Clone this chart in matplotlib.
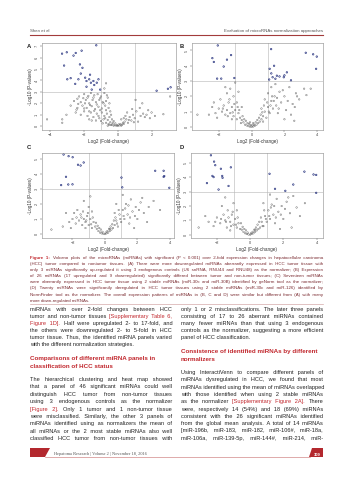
import matplotlib
matplotlib.use('Agg')
import matplotlib.pyplot as plt
from matplotlib.patches import Polygon

plt.rcParams['font.family'] = ['Liberation Sans', 'DejaVu Sans']

# ---- data ----
# panel A: 3 endogenous controls
a_sig_x = [-1.28, -3.31, -3.03, -2.63, -2.5, -2.15, -3.19, -2.25, -2.1, -3.0, -2.8, -2.53, -2.34, -2.2,
           -1.94, -1.86, -1.7, -1.6, -1.45, -1.25, -1.15, -1.65, -1.4, -1.86, -1.55, -1.05, 2.97, 3.13, 2.3]
a_sig_y = [7.07, 6.34, 6.46, 6.17, 6.4, 6.6, 5.3, 5.4, 5.1, 4.1, 4.2, 3.7, 4.1, 4.6,
           4.24, 3.95, 4.1, 3.8, 3.95, 3.8, 4.1, 4.5, 3.6, 3.45, 3.2, 3.2, 3.27, 3.4, 3.1]
a_ns_x = [-2.3, -2.0, -1.8, -1.6, -1.4, -1.2, -1.0, -0.8, -0.6, -2.6, -2.2, -1.9, -1.7, -1.5, -1.3, -1.1,
          -0.9, -0.7, -2.8, -2.4, -2.1, -1.85, -1.55, -1.35, -1.15, -0.95, -0.75, -0.55, -0.7, -0.8,
          -3.05, -3.3, -3.3, -4.2, -2.5, -2.2, -2.0, -1.8, -1.6, -1.45, -1.25, -1.1, -0.95, -0.8, -0.65,
          -0.5, -0.4, -1.7, -1.3, -1.0, -0.85, -0.6,
          -0.7, -0.55, -0.45, -0.35, -0.3, -0.2, -0.15, -0.1, 0.0, 0.05, -0.05, 0.1, 0.15, 0.2, -0.25,
          -0.4, -0.9, 0.3, 0.25,
          0.4, 0.5, 0.6, 0.7, 0.8, 0.9, 1.0, 1.1, 1.2, 1.3, 1.5, 1.6, 1.8, 1.9, 2.0, 2.2, 2.7, 0.55,
          0.35, 0.85, 1.45, 1.05, 3.1, 0.2, 0.45,
          -2.4, -2.05, -1.75, -1.45, -1.05, -0.65, -2.35, -1.95, -1.65, -1.25, -0.85, -0.5, -2.45, -2.0,
          -1.7, -1.4, -1.05, -0.7, -0.45, -1.55, -1.15, -0.75, -0.35, -0.25, -0.6, -0.5, 0.35, 0.65,
          0.95, 1.35, 1.7]
a_ns_y = [2.6, 2.8, 2.5, 2.9, 2.7, 2.8, 2.6, 2.9, 2.5, 2.2, 2.1, 2.3, 2.0, 2.3, 2.1, 2.3,
          2.1, 2.2, 1.8, 1.6, 1.8, 1.6, 1.75, 1.5, 1.7, 1.55, 1.8, 1.6, 3.75, 3.3,
          1.0, 0.6, 0.3, 0.6, 1.2, 1.0, 1.3, 0.9, 1.2, 0.8, 1.1, 0.7, 1.2, 0.9, 1.1,
          0.8, 1.0, 0.6, 0.5, 0.45, 0.6, 0.55,
          0.3, 0.2, 0.35, 0.15, 0.3, 0.1, 0.25, 0.05, 0.02, 0.15, 0.1, 0.08, 0.2, 0.05, 0.05,
          0.1, 0.25, 0.3, 0.12,
          0.4, 0.6, 0.3, 0.8, 0.5, 1.0, 0.7, 1.3, 0.4, 1.6, 1.1, 0.8, 1.4, 0.7, 1.2, 0.9, 1.05, 1.2,
          0.7, 1.5, 2.0, 2.3, 2.6, 0.6, 0.9,
          2.4, 2.45, 2.65, 2.5, 2.45, 2.7, 1.95, 2.0, 1.85, 1.9, 2.0, 2.0, 1.45, 1.55,
          1.3, 1.35, 1.4, 1.4, 1.3, 0.5, 0.9, 0.7, 0.6, 0.45, 0.05, 0.12, 0.2, 0.55,
          0.35, 0.9, 1.0]

# panel B: global mean
b_sig_x = [-2.06, -2.39, -2.3, -1.5, -1.7, -1.25, -2.1, -1.85, -1.05,
           1.19, 3.3, 3.75, 3.97, 3.93, 1.37, 1.2, 1.54, 1.7, 1.96, 2.15, 1.28, 1.07, 2.0, 2.4, 1.45, 1.1]
b_sig_y = [5.33, 4.5, 4.25, 4.4, 3.95, 4.7, 3.16, 3.16, 3.2,
           5.09, 4.85, 4.75, 4.6, 3.8, 4.0, 3.5, 3.35, 3.3, 3.25, 3.57, 3.25, 3.1, 3.37, 3.05, 3.15, 3.8]
b_ns_x = [-0.5, -0.4, -0.3, -0.2, -0.1, 0.0, 0.1, 0.2, 0.3, 0.4, 0.5, -0.6, -0.15, 0.15, 0.05, -0.05,
          0.25, -0.25, 0.6, -0.35,
          -0.7, -0.8, -0.9, -1.0, -1.1, -1.2, -1.3, -1.4, -1.5, -1.6, -1.7, -1.8, -2.0, -2.2, -2.4,
          -2.6, -3.3, -1.9, -1.5, -1.3, -1.1, -0.9, -0.6, -1.0, -0.8, -1.6, -2.1, -1.2,
          0.7, 0.8, 0.9, 1.0, 1.1, 1.2, 1.3, 1.4, 1.5, 1.6, 1.7, 1.8, 2.0, 2.1, 2.3, 2.5, 2.7, 2.9,
          3.2, 2.4, 1.2, 1.0, 0.8, 1.45, 2.0, 0.6, 2.6, 3.34, 2.77, 2.63, 3.6,
          -0.45, -0.55, -0.75, -0.85, -1.05, -1.15, -1.35, -1.45, -1.75, -2.3, 0.35, 0.45, 0.55, 0.65,
          0.75, 0.95, 1.05, 1.15, 1.25, 1.35, 1.55, 1.65, 1.9, 2.2, -0.65, 0.7, -0.1, 0.1]
b_ns_y = [0.3, 0.15, 0.1, 0.05, 0.02, 0.0, 0.03, 0.08, 0.15, 0.25, 0.35, 0.45, 0.2, 0.15, 0.1, 0.12,
          0.3, 0.25, 0.5, 0.4,
          0.6, 0.9, 0.5, 1.1, 0.7, 1.3, 0.9, 1.6, 1.1, 0.8, 1.4, 1.0, 1.2, 0.9, 1.3,
          0.8, 0.8, 1.8, 2.2, 2.5, 2.0, 1.6, 1.3, 2.9, 2.3, 2.6, 0.6, 0.5,
          0.7, 1.0, 0.6, 1.3, 0.9, 1.7, 1.2, 2.0, 1.4, 0.9, 2.3, 1.6, 2.0, 1.1, 2.6, 1.5, 2.2, 1.8,
          2.5, 0.8, 2.6, 2.2, 1.8, 2.8, 0.5, 1.2, 0.4, 2.08, 2.0, 1.3, 2.5,
          0.5, 0.7, 1.1, 1.3, 1.5, 0.95, 1.8, 0.7, 1.2, 1.6, 0.45, 0.6, 0.8, 0.95,
          1.4, 1.6, 1.0, 1.4, 2.0, 1.7, 1.9, 1.2, 2.4, 1.7, 0.25, 0.35, 0.3, 0.25]

# panel C: geNorm
c_sig_x = [-2.55, -2.24, -1.99, -1.66, -1.31, -2.4, -2.26, -2.0, 1.02, 3.1, 3.62, 3.62, 3.66, 3.97, 1.07,
           -1.5, -2.7]
c_sig_y = [5.28, 5.17, 5.1, 4.6, 4.75, 3.8, 3.29, 3.3, 3.75, 4.2, 4.2, 3.8, 3.85, 3.07, 3.1,
           4.55, 3.25]
c_ns_x = [-0.4, -0.3, -0.2, -0.1, 0.0, 0.1, 0.2, 0.3, 0.4, -0.5, 0.5, -0.15, 0.15, -0.25, 0.25, 0.05,
          -0.6, -0.7, -0.8, -0.9, -1.0, -1.1, -1.2, -1.3, -1.4, -1.5, -1.6, -1.8, -2.0, -2.2, -2.4,
          -2.6, -1.7, -1.0, -0.8, -1.3, -0.9, -1.2, -2.1, -3.3,
          0.6, 0.7, 0.8, 0.9, 1.0, 1.1, 1.2, 1.3, 1.4, 1.5, 1.6, 1.7, 1.9, 2.0, 2.2, 2.4, 2.7, 3.0,
          3.4, 2.6, 1.8, 1.1, 0.7, 0.6,
          -0.45, -0.55, -0.75, -0.85, -1.05, -1.15, -1.35, -1.45, -1.75, -1.9, 0.35, 0.45, 0.55, 0.65,
          0.75, 0.85, 0.95, 1.15, 1.25, 1.45, 1.55, 1.85, 2.1, 2.3, -0.35, 0.3]
c_ns_y = [0.2, 0.1, 0.05, 0.02, 0.0, 0.05, 0.1, 0.2, 0.3, 0.35, 0.4, 0.15, 0.2, 0.3, 0.35, 0.1,
          0.5, 0.8, 0.4, 1.0, 0.6, 1.2, 0.8, 1.0, 0.6, 1.3, 0.9, 0.7, 1.0, 0.8, 1.4,
          0.5, 1.6, 1.8, 1.5, 2.2, 2.5, 0.4, 0.4, 0.3,
          0.6, 0.9, 0.5, 1.3, 0.8, 1.6, 1.0, 2.0, 1.3, 0.7, 2.3, 1.5, 1.8, 1.0, 2.1, 1.4, 1.8, 2.2,
          1.6, 0.8, 0.4, 2.6, 2.0, 1.4,
          0.55, 0.75, 1.1, 0.65, 1.4, 0.9, 1.5, 1.1, 1.1, 1.4, 0.5, 0.65, 0.9, 1.1,
          0.7, 1.6, 1.0, 1.2, 1.7, 1.9, 1.1, 1.2, 1.6, 2.4, 0.4, 0.35]

# panel D: NormFinder
d_sig_x = [-2.36, -2.17, -2.1, -1.76, -1.16, -2.27, -1.68, 1.17, 3.27, 3.82, 3.98, -2.2, -1.66, 2.12,
           3.98, -1.3, -2.6, 1.5, 2.6, -1.9]
d_sig_y = [5.54, 5.1, 4.85, 4.6, 4.7, 4.1, 4.1, 4.25, 4.4, 4.2, 4.17, 4.02, 3.97, 3.06,
           2.92, 3.4, 3.6, 3.2, 3.5, 3.15]
d_ns_x = [-0.4, -0.3, -0.2, -0.1, 0.0, 0.1, 0.2, 0.3, 0.4, -0.5, 0.5, -0.15, 0.15, -0.25, 0.25, 0.05,
          -0.6, -0.7, -0.8, -0.9, -1.0, -1.1, -1.2, -1.3, -1.4, -1.5, -1.6, -1.8, -2.0, -2.2, -2.5,
          -3.1, -1.7, -1.5, -1.0, -0.8, -1.2, -2.7,
          0.6, 0.7, 0.8, 0.9, 1.0, 1.1, 1.2, 1.3, 1.4, 1.5, 1.6, 1.7, 1.9, 2.0, 2.2, 2.4, 2.6, 2.8,
          3.0, 3.3, 2.5, 1.8, 1.2, 0.8,
          -0.45, -0.55, -0.75, -0.85, -1.05, -1.15, -1.35, -1.45, -1.75, -2.1, 0.35, 0.45, 0.55, 0.65,
          0.75, 0.85, 0.95, 1.15, 1.25, 1.45, 1.55, 1.85, 2.1, 2.3, -0.35, 0.3]
d_ns_y = [0.2, 0.1, 0.05, 0.02, 0.0, 0.05, 0.1, 0.2, 0.3, 0.35, 0.4, 0.15, 0.2, 0.3, 0.35, 0.1,
          0.4, 0.8, 0.5, 1.1, 0.7, 1.4, 0.9, 1.2, 0.5, 1.0, 1.4, 0.8, 1.2, 0.6, 0.9,
          0.5, 2.0, 2.6, 2.2, 1.7, 0.3, 1.3,
          0.5, 0.9, 0.6, 1.3, 0.9, 1.7, 1.1, 2.1, 1.4, 0.8, 2.5, 1.6, 2.0, 1.1, 2.3, 1.5, 2.7, 1.9,
          1.3, 2.2, 0.5, 0.4, 2.8, 2.2,
          0.55, 0.8, 1.2, 0.7, 1.6, 0.6, 1.7, 0.9, 1.1, 0.9, 0.5, 0.7, 0.9, 1.2,
          0.6, 1.7, 1.1, 1.3, 1.9, 2.0, 1.2, 1.4, 1.8, 2.6, 0.4, 0.35]

caption = [
    "*Figure *1: Volcano plots of the microRNAs (miRNAs) with significant (P < 0.001) over 2-fold expression changes in hepatocellular carcinoma",
    "(HCC) tumor compared to nontumor tissues. (A) There were more downregulated miRNAs aberrantly expressed in HCC tumor tissue with",
    "only 3 miRNAs significantly up-regulated it using 3 endogenous controls (U6 snRNA, RNU44 and RNU48) as the normalizer; (B) Expression",
    "of 26 miRNAs (17 upregulated and 9 downregulated) significantly differed between tumor and non-tumor tissues; (C) Seventeen miRNAs",
    "were aberrantly expressed in HCC tumor tissue using 2 stable miRNAs (miR-30c and miR-30B) identified by geNorm tool as the normalizer;",
    "(D) Twenty miRNAs were significantly deregulated in HCC tumor tissues using 2 stable miRNAs (miR-30c and miR-126) identified by",
    "NormFinder tool as the normalizer. The overall expression patterns of miRNAs in (B, C and D) were similar but different from (A) with many",
    "more down-regulated miRNAs.",
]

left_top = [
    "miRNAs with over 2-fold changes between HCC",
    "tumor and non-tumor tissues @[Supplementary @Table @6,",
    "@Figure @1D]. Half were upregulated 2- to 17-fold, and",
    "the others were downregulated 2- to 5-fold in HCC",
    "tumor tissue. Thus, the identified miRNA panels varied",
    "with the different normalization strategies.",
]
left_head = ["Comparisons of different miRNA panels in", "classification of HCC status"]
left_body = [
    "The hierarchical clustering and heat map showed",
    "that a panel of 46 significant miRNAs could well",
    "distinguish HCC tumor from non-tumor tissues",
    "using 3 endogenous controls as the normalizer",
    "@[Figure @2]. Only 1 tumor and 1 non-tumor tissue",
    "were misclassified. Similarly, the other 3 panels of",
    "miRNAs identified using as normalizers the mean of",
    "all miRNAs or the 2 most stable miRNAs also well",
    "classified HCC tumor from non-tumor tissues with",
]
right_top = [
    "only 1 or 2 misclassifications. The later three panels",
    "consisting of 17 to 26 aberrant miRNAs contained",
    "many fewer miRNAs than that using 3 endogenous",
    "controls as the normalizer, suggesting a more efficient",
    "panel of HCC classification.",
]
right_head = ["Consistence of identified miRNAs by different", "normalizers"]
right_body = [
    "Using InteractiVenn to compare different panels of",
    "miRNAs dysregulated in HCC, we found that most",
    "miRNAs identified using the mean of miRNAs overlapped",
    "with those identified when using 2 stable miRNAs",
    "as the normalizer @[Supplementary @Figure @2A]. There",
    "were, respectively 14 (54%) and 18 (69%) miRNAs",
    "consistent with the 26 significant miRNAs identified",
    "from the global mean analysis. A total of 14 miRNAs",
    "[miR-196b, miR-183, miR-182, miR-106#, miR-18a,",
    "miR-106a, miR-139-5p, miR-144#, miR-214, miR-",
]

W, H = 353, 480
RED = '#c1272d'
HS = '\u200a'  # hair space, used to justify the lines
fig = plt.figure(figsize=(W / 100, H / 100), dpi=100)
renderer = fig.canvas.get_renderer()


def fx(x):
    return x / W


def fy(y):
    return 1 - y / H


def rect(l, t, r, b):
    return [l / W, 1 - b / H, (r - l) / W, (b - t) / H]


def width(s, size, weight='normal'):
    t = fig.text(0, 0, s, fontsize=size, fontweight=weight)
    w = t.get_window_extent(renderer).width
    t.remove()
    return w


def put_line(text, x0, x1, y, size, color, justify=True, weight='normal'):
    # words -> (word, colour, weight); consecutive words of same style are one text
    words = []
    for w in text.split():
        c, wt = color, weight
        if w.startswith('@'):
            w, c = w[1:], RED
        if w.startswith('*'):
            w, c, wt = w[1:], RED, 'bold'
        words.append((w, c, wt))
    space = width('a a', size) - width('aa', size)
    hair = (width('a' + HS * 20 + 'a', size) - width('aa', size)) / 20
    natural = sum(width(w, size, wt) for w, _, wt in words) + space * (len(words) - 1)
    ngaps = len(words) - 1
    extra = [0] * max(ngaps, 1)
    if justify and ngaps > 0:
        n = max(0, int(round((x1 - x0 - natural) / hair)))
        extra = [n // ngaps + (1 if i < n % ngaps else 0) for i in range(ngaps)]
    x = x0
    i = 0
    while i < len(words):
        j = i
        seg = words[i][0]
        while j + 1 < len(words) and words[j + 1][1:] == words[i][1:]:
            seg += ' ' + HS * extra[j] + words[j + 1][0]
            j += 1
        fig.text(fx(x), fy(y), seg, fontsize=size, color=words[i][1], fontweight=words[i][2], va='baseline')
        x += width(seg, size, words[i][2])
        if j < ngaps:
            x += space + hair * extra[j]
        i = j + 1


def volcano(box, ns_x, ns_y, sig_x, sig_y, xlim, ylim, xticks, yticks):
    ax = fig.add_axes(box)
    ax.axvline(-1, color='#b5b5b5', lw=0.4, zorder=0)
    ax.axvline(1, color='#b5b5b5', lw=0.4, zorder=0)
    ax.axhline(3, color='#b5b5b5', lw=0.4, zorder=0)
    ax.scatter(ns_x, ns_y, s=1.2, facecolors='none', edgecolors='#5a5a5a', linewidths=0.3)
    ax.scatter(sig_x, sig_y, s=1.2, facecolors='none', edgecolors='#1c2878', linewidths=0.45)
    ax.set_xlim(*xlim)
    ax.set_ylim(*ylim)
    ax.set_xticks(xticks)
    ax.set_yticks(yticks)
    ax.tick_params(labelsize=2.8, length=1.2, width=0.3, pad=1, colors='#444444')
    for lab in ax.get_yticklabels():
        lab.set_rotation(90)
        lab.set_va('center')
    for sp in ax.spines.values():
        sp.set_linewidth(0.4)
        sp.set_color('#8a8a8a')
    ax.set_xlabel('Log2 (Fold-change)', fontsize=3.3, labelpad=1.5, color='#333333')
    ax.set_ylabel('-Log10 (P-values)', fontsize=3.3, labelpad=1.2, color='#333333')
    return ax


volcano(rect(42, 43, 176, 130), a_ns_x, a_ns_y, a_sig_x, a_sig_y,
        (-4.5, 3.45), (-0.33, 7.27), [-4, -2, 0, 2], range(8))
volcano(rect(192, 43, 323, 129.5), b_ns_x, b_ns_y, b_sig_x, b_sig_y,
        (-3.63, 4.35), (-0.17, 5.49), [-2, 0, 2, 4], range(6))
volcano(rect(42, 153, 174, 238), c_ns_x, c_ns_y, c_sig_x, c_sig_y,
        (-3.88, 4.26), (-0.26, 5.38), [-2, 0, 2, 4], range(6))
volcano(rect(191, 153, 323, 238), d_ns_x, d_ns_y, d_sig_x, d_sig_y,
        (-3.56, 4.39), (-0.23, 5.7), [-2, 0, 2, 4], range(6))

for letter, x, y in [('A', 27, 48), ('B', 180, 48), ('C', 27, 149), ('D', 180, 149)]:
    fig.text(fx(x), fy(y), letter, fontsize=4.2, fontweight='bold', color='#222222', va='baseline')

# header
fig.text(fx(30), fy(32), 'Shen et al', fontsize=3.2, color='#555555', va='baseline')
fig.text(fx(323), fy(32), 'Evaluation of microRNAs normalization approaches', fontsize=3.2,
         color='#555555', va='baseline', ha='right')
fig.add_artist(plt.Line2D([fx(30), fx(323)], [fy(35), fy(35)], color='#a33b3b', lw=0.8))

# caption
for i, line in enumerate(caption):
    put_line(line, 30, 323, 259 + 6.1 * i, 3.15, '#7a2a30', justify=i < len(caption) - 1)
fig.add_artist(plt.Line2D([fx(30), fx(323)], [fy(304), fy(304)], color='#d4aaaa', lw=0.5))

# body text, two columns
BODY = 4.05
for i, line in enumerate(left_top):
    put_line(line, 30, 172, 311 + 7 * i, BODY, '#222222', justify=i < len(left_top) - 1)
for i, line in enumerate(left_head):
    put_line(line, 30, 172, 360 + 8 * i, 4.5, RED, justify=False, weight='bold')
for i, line in enumerate(left_body):
    put_line(line, 30, 172, 381 + 7.4 * i, BODY, '#222222')

for i, line in enumerate(right_top):
    put_line(line, 181, 323, 311 + 7 * i, BODY, '#222222', justify=i < len(right_top) - 1)
for i, line in enumerate(right_head):
    put_line(line, 181, 323, 353 + 8 * i, 4.5, RED, justify=False, weight='bold')
for i, line in enumerate(right_body):
    put_line(line, 181, 323, 374 + 7.3 * i, BODY, '#222222')

# footer
fig.add_artist(Polygon([(fx(30), fy(457)), (fx(30), fy(448)), (fx(50), fy(448)), (fx(45), fy(457))],
                       closed=True, color='#b3282e', lw=0))
fig.add_artist(plt.Line2D([fx(45), fx(310)], [fy(457), fy(457)], color='#c66a6a', lw=0.4))
fig.text(fx(54), fy(455), 'Hepatoma Research | Volume 2 | November 18, 2016', fontsize=3.2,
         family='Liberation Serif', color='#555555', va='baseline')
fig.add_artist(Polygon([(fx(312), fy(448)), (fx(323), fy(448)), (fx(323), fy(457)), (fx(309), fy(457))],
                       closed=True, color='#b3282e', lw=0))
fig.text(fx(317), fy(455.5), '309', fontsize=3.0, color='white', fontweight='bold', ha='center', va='baseline')

fig.savefig('out.png', dpi=100)
